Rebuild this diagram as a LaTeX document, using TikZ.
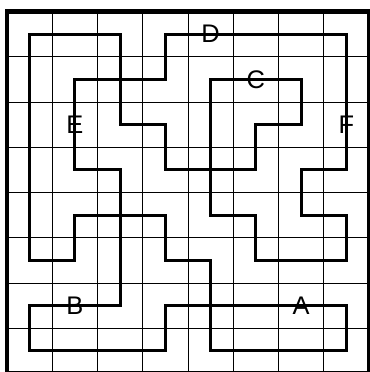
\documentclass[tikz,border=0pt]{standalone}
\usepackage{fontspec}
\setmainfont{Liberation Sans}
\begin{document}
\begin{tikzpicture}[
  gridline/.style={line width=0.6pt, black},
  frameline/.style={line width=3.1pt, black},
  loopline/.style={line width=1.9pt, black, line join=miter},
  lbl/.style={inner sep=0pt, font=\fontsize{16}{19}\selectfont}
]
\begin{scope}[yscale=-1]
  \useasboundingbox (-0.155,-0.254) rectangle (8.0,7.967);
  \draw[gridline] (0,0) grid (8,8);
  \draw[frameline] (0,0) rectangle (8,8);
  \begin{scope}[shift={(0.5,0.5)}]
    \draw[loopline] (0,0) -- (2,0) -- (2,2) -- (3,2) -- (3,3) -- (5,3) -- (5,2)
      -- (6,2) -- (6,1) -- (4,1) -- (4,4) -- (5,4) -- (5,5) -- (7,5) -- (7,4)
      -- (6,4) -- (6,3) -- (7,3) -- (7,0) -- (3,0) -- (3,1) -- (1,1) -- (1,3)
      -- (2,3) -- (2,6) -- (0,6) -- (0,7) -- (3,7) -- (3,6) -- (7,6) -- (7,7)
      -- (4,7) -- (4,5) -- (3,5) -- (3,4) -- (1,4) -- (1,5) -- (0,5) -- cycle;
    \node[lbl] (A) at (6,6) {A};
    \node[lbl] (B) at (1,6) {B};
    \node[lbl] (C) at (5,1) {C};
    \node[lbl] (D) at (4,0) {D};
    \node[lbl] (E) at (1,2) {E};
    \node[lbl] (F) at (7,2) {F};
  \end{scope}
\end{scope}
\end{tikzpicture}
\end{document}
